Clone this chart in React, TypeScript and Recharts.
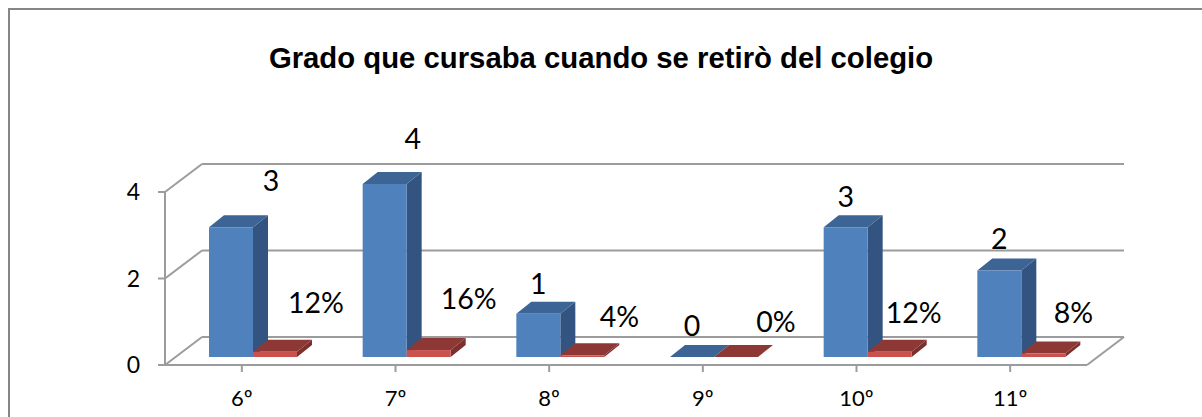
import { Bar, BarChart, CartesianGrid, LabelList, XAxis, YAxis } from "recharts";

const grades = ["6º", "7º", "8º", "9º", "10º", "11º"];
const counts = [3, 4, 1, 0, 3, 2];
const shares = [0.12, 0.16, 0.04, 0, 0.12, 0.08];
const yTicks = [0, 2, 4];

const chartData = grades.map((grade, i) => ({ grade, count: counts[i], share: shares[i] }));

// hand-dragged data labels in the original, [dx, dy] from the top centre of the box
const countNudge = [[40, -47], [28, -46], [0, -31], [0, -32], [0, -31], [0, -33]];
const shareNudge = [[41, -50], [40, -52], [37, -39], [40, -36], [24, -40], [30, -42]];

const GRID = "#9c9c9c";
const FONT = "Lato, sans-serif";

// fake 3d: the box sits on the floor, a bit behind the front axis
const SHIFT_X = 11;
const SHIFT_Y = -8;
const DEPTH_X = 15;
const DEPTH_Y = -12;
const WALL_X = 37;
const WALL_Y = -28;

function Box(props: any) {
  const { x, y, width, height, front, side, top } = props;
  const l = x + SHIFT_X;
  const r = l + width;
  const t = y + SHIFT_Y;
  const b = t + height;
  return (
    <g>
      <polygon
        points={`${r},${t} ${r + DEPTH_X},${t + DEPTH_Y} ${r + DEPTH_X},${b + DEPTH_Y} ${r},${b}`}
        fill={side}
      />
      <polygon
        points={`${l},${t} ${l + DEPTH_X},${t + DEPTH_Y} ${r + DEPTH_X},${t + DEPTH_Y} ${r},${t}`}
        fill={top}
      />
      <rect x={l} y={t} width={width} height={height} fill={front} />
    </g>
  );
}

function WallLine(props: any) {
  const { x1, x2, y1, index } = props;
  return (
    <g key={`wall-${index}`}>
      <line x1={x1} y1={y1} x2={x1 + WALL_X} y2={y1 + WALL_Y} stroke={GRID} strokeWidth={2} />
      <line x1={x1 + WALL_X} y1={y1 + WALL_Y} x2={x2 + WALL_X} y2={y1 + WALL_Y} stroke={GRID} strokeWidth={2} />
      {y1 > 300 && <line x1={x2} y1={y1} x2={x2 + WALL_X} y2={y1 + WALL_Y} stroke={GRID} strokeWidth={2} />}
    </g>
  );
}

function makeLabel(nudge: number[][], format: (v: number) => string) {
  return function BoxLabel(props: any) {
    const { x, y, width, value, index } = props;
    const [dx, dy] = nudge[index];
    return (
      <text
        x={x + width / 2 + SHIFT_X + dx}
        y={y + SHIFT_Y + dy}
        textAnchor="middle"
        dominantBaseline="central"
        fontFamily={FONT}
        fontSize={28.5}
        fill="#000"
      >
        {format(Number(value))}
      </text>
    );
  };
}

export default function App() {
  return (
    <div
      style={{
        position: "absolute",
        left: 0,
        top: 0,
        width: 1202,
        height: 417,
        background: "#fff",
        overflow: "hidden",
      }}
    >
      <div
        style={{
          position: "absolute",
          left: 8,
          top: 8,
          width: 1194,
          height: 409,
          borderLeft: "2px solid #868686",
          borderTop: "2px solid #868686",
          boxSizing: "border-box",
        }}
      />
      <div
        style={{
          position: "absolute",
          left: 0,
          top: 42,
          width: 1202,
          textAlign: "center",
          fontFamily: "'Liberation Sans', Arial, sans-serif",
          fontWeight: 700,
          fontSize: 29.3,
          lineHeight: "32px",
          color: "#000",
        }}
      >
        Grado que cursaba cuando se retirò del colegio
      </div>
      <div style={{ position: "absolute", left: 0, top: 0 }}>
        <BarChart
          width={1202}
          height={417}
          data={chartData}
          margin={{ top: 192, right: 115, bottom: 0, left: 0 }}
          barSize={44}
          barGap={0}
          barCategoryGap={0}
        >
          <CartesianGrid vertical={false} horizontal={(p: any) => <WallLine {...p} />} />
          <XAxis
            dataKey="grade"
            height={52}
            interval={0}
            tickSize={7}
            tickMargin={18}
            axisLine={{ stroke: GRID, strokeWidth: 2 }}
            tickLine={{ stroke: GRID, strokeWidth: 2 }}
            tick={{ fill: "#000", fontFamily: FONT, fontSize: 22 }}
          />
          <YAxis
            width={165}
            domain={[0, 4]}
            ticks={yTicks}
            tickSize={7}
            tickMargin={18}
            axisLine={{ stroke: GRID, strokeWidth: 2 }}
            tickLine={{ stroke: GRID, strokeWidth: 2 }}
            tick={{ fill: "#000", fontFamily: FONT, fontSize: 23 }}
          />
          <Bar
            dataKey="count"
            isAnimationActive={false}
            shape={(p: any) => <Box {...p} front="#4f81bd" side="#335480" top="#3c6494" />}
          >
            <LabelList dataKey="count" content={makeLabel(countNudge, (v) => `${v}`)} />
          </Bar>
          <Bar
            dataKey="share"
            isAnimationActive={false}
            shape={(p: any) => <Box {...p} front="#c9514e" side="#7c302e" top="#8e3836" />}
          >
            <LabelList dataKey="share" content={makeLabel(shareNudge, (v) => `${Math.round(v * 100)}%`)} />
          </Bar>
        </BarChart>
      </div>
    </div>
  );
}
